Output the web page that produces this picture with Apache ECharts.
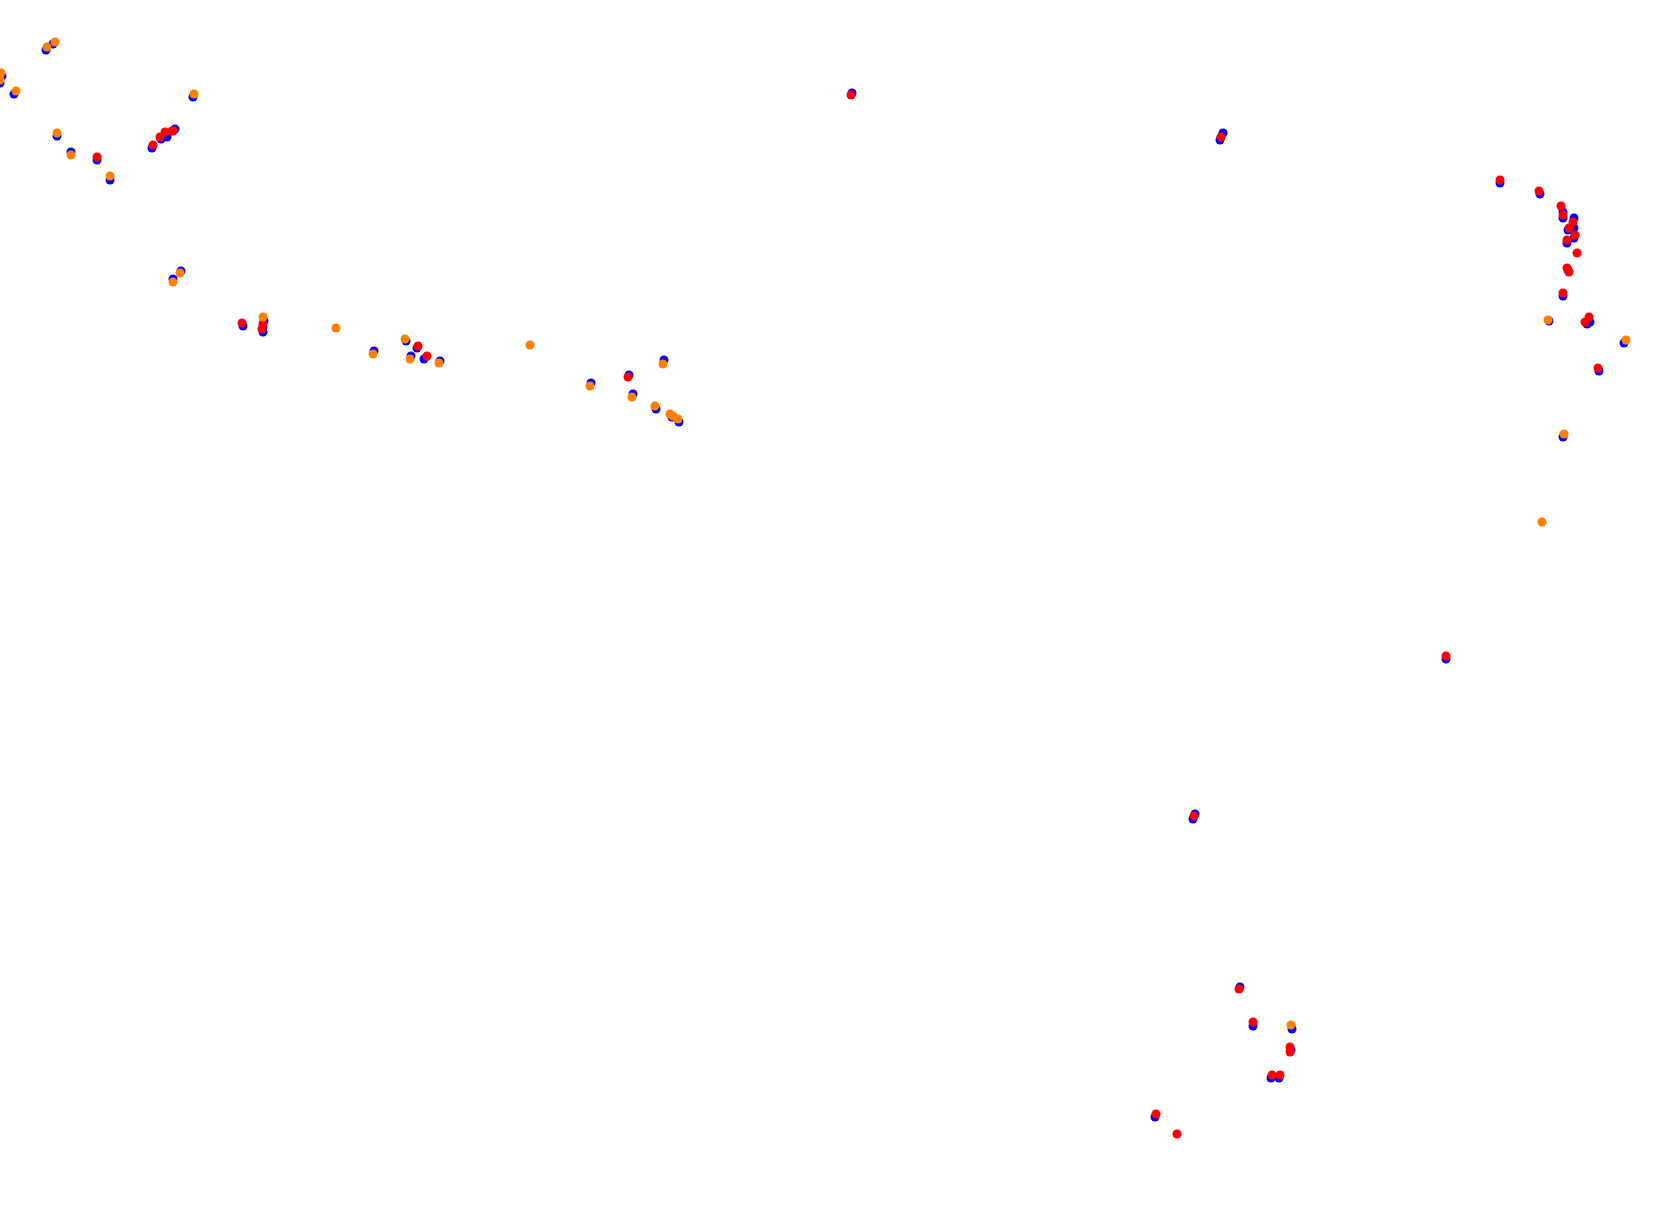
<!DOCTYPE html>
<html><head><meta charset="utf-8">
<script src="https://cdn.jsdelivr.net/npm/echarts@6/dist/echarts.min.js"></script>
<style>html,body{margin:0;padding:0;background:#fff}#c{width:1680px;height:1218px}</style>
</head><body><div id="c"></div>
<script>
const blueX = [53,46,2,0,14,57,71,97,110,193,152,161,167,175,181,173,243,264,263,263,406,374,417,411,424,440,664,629,591,633,656,672,679,852,1220,1223,1500,1540,1563,1563,1574,1574,1568,1574,1567,1568,1563,1549,1587,1590,1624,1599,1563,1446,1193,1195,1240,1253,1292,1291,1271,1279,1155];
const blueY = [44,50,76,83,94,136,152,160,180,97,148,139,137,129,271,279,326,321,327,332,341,351,348,356,359,361,360,375,383,394,409,417,422,93,140,133,183,194,212,218,218,228,230,238,243,270,296,321,324,322,343,371,437,659,819,814,987,1026,1029,1050,1078,1078,1117];
const redX = [97,153,160,165,172,173,242,263,262,418,427,628,851,1221,1500,1539,1561,1563,1573,1569,1575,1567,1577,1567,1569,1563,1589,1585,1598,1446,1194,1239,1253,1290,1290,1272,1280,1156,1177];
const redY = [157,145,137,132,131,131,323,324,329,346,356,377,95,137,180,191,206,215,222,228,235,240,253,268,272,293,317,322,368,656,816,989,1022,1047,1052,1075,1075,1114,1134];
const orangeX = [55,47,1,0,16,57,71,110,194,180,173,263,336,405,373,410,439,530,663,590,632,655,670,673,678,1548,1626,1564,1542,1291];
const orangeY = [42,47,73,80,91,133,155,176,94,273,282,317,328,339,354,359,363,345,364,386,397,406,414,416,419,320,340,434,522,1025];

const zip = (xs, ys) => xs.map((x, i) => [x, ys[i]]);
const chart = echarts.init(document.getElementById('c'));
chart.setOption({
  animation: false,
  grid: {left: 0, right: 0, top: 0, bottom: 0},
  xAxis: {type: 'value', min: 0, max: 1680, show: false},
  yAxis: {type: 'value', min: 0, max: 1218, inverse: true, show: false},
  series: [
    {type: 'scatter', data: zip(blueX, blueY), symbolSize: 9, itemStyle: {color: '#0000ff', opacity: 1}},
    {type: 'scatter', data: zip(redX, redY), symbolSize: 9, itemStyle: {color: '#ff0000', opacity: 1}},
    {type: 'scatter', data: zip(orangeX, orangeY), symbolSize: 9, itemStyle: {color: '#ff8000', opacity: 1}}
  ]
});
</script></body></html>
